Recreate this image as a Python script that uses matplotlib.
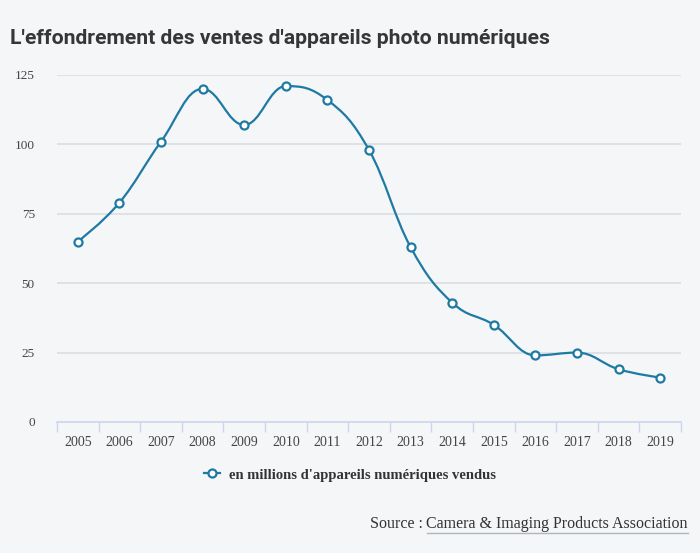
import numpy as np
import matplotlib
matplotlib.use('Agg')
import matplotlib.pyplot as plt
from matplotlib.path import Path
from matplotlib.patches import PathPatch
from matplotlib.lines import Line2D

# Données (millions d'appareils numériques vendus)
annees = ['2005', '2006', '2007', '2008', '2009', '2010', '2011', '2012',
          '2013', '2014', '2015', '2016', '2017', '2018', '2019']
ventes = [65, 79, 101, 120, 107, 121, 116, 98, 63, 43, 35, 24, 25, 19, 16]
yticks = [0, 25, 50, 75, 100, 125]

titre = "L'effondrement des ventes d'appareils photo numériques"
legende = "en millions d'appareils numériques vendus"
source_pre = "Source : "
source_nom = "Camera & Imaging Products Association"

BLEU = '#1f7aa3'
FOND = '#f4f6f8'
GRILLE = '#dadfe4'
AXE = '#ccd6eb'


def spline_path(xs, ys, smoothing=1.5):
    # courbe lissée façon "spline" (points de contrôle de Bézier)
    n = len(xs)
    denom = smoothing + 1
    verts = [(xs[0], ys[0])]
    codes = [Path.MOVETO]
    ctrl = []
    for i in range(n):
        if i == 0 or i == n - 1:
            ctrl.append(((xs[i], ys[i]), (xs[i], ys[i])))
            continue
        lx, ly = xs[i - 1], ys[i - 1]
        nx, ny = xs[i + 1], ys[i + 1]
        px, py = xs[i], ys[i]
        lcx = (smoothing * px + lx) / denom
        lcy = (smoothing * py + ly) / denom
        rcx = (smoothing * px + nx) / denom
        rcy = (smoothing * py + ny) / denom
        if rcx != lcx:
            corr = (rcy - lcy) * (rcx - px) / (rcx - lcx) + py - rcy
            lcy += corr
            rcy += corr
        if lcy > ly and lcy > py:
            lcy = max(ly, py)
            rcy = 2 * py - lcy
        elif lcy < ly and lcy < py:
            lcy = min(ly, py)
            rcy = 2 * py - lcy
        if rcy > ny and rcy > py:
            rcy = max(ny, py)
            lcy = 2 * py - rcy
        elif rcy < ny and rcy < py:
            rcy = min(ny, py)
            lcy = 2 * py - rcy
        ctrl.append(((lcx, lcy), (rcx, rcy)))
    for i in range(1, n):
        verts += [ctrl[i - 1][1], ctrl[i][0], (xs[i], ys[i])]
        codes += [Path.CURVE4] * 3
    return Path(verts, codes)


fig = plt.figure(figsize=(7, 5.53), dpi=100, facecolor=FOND)
ax = fig.add_axes([57 / 700, 131 / 553, 624 / 700, 347 / 553])
ax.set_facecolor(FOND)

x = np.arange(len(annees))
chemin = spline_path(list(x), ventes)
ax.add_patch(PathPatch(chemin, facecolor='none', edgecolor=BLEU, lw=1.6, zorder=3))
ax.plot(x, ventes, ls='none', marker='o', ms=5.8, mfc='white', mec=BLEU,
        mew=1.6, zorder=4)

ax.set_xlim(-0.5, len(annees) - 0.5)
ax.set_ylim(0, 125)
ax.set_yticks(yticks)
ax.set_yticklabels([str(v) for v in yticks], family='Liberation Serif',
                   fontsize=9.5, color='#444444')
ax.tick_params(axis='y', length=0, pad=16)

ax.set_xticks(x)
ax.set_xticklabels(annees, family='Liberation Serif', fontsize=10,
                   color='#444444')
ax.set_xticks(np.arange(len(annees) + 1) - 0.5, minor=True)
ax.tick_params(axis='x', which='major', length=0, pad=10)
ax.tick_params(axis='x', which='minor', length=7, width=1, color=AXE,
               direction='out')

for v in yticks[1:]:
    ax.axhline(v, color=GRILLE, lw=1.2, zorder=1)
for s in ['top', 'right', 'left']:
    ax.spines[s].set_visible(False)
ax.spines['bottom'].set_color(AXE)
ax.spines['bottom'].set_linewidth(1.2)

fig.text(10 / 700, 1 - 38 / 553, titre, fontsize=15.2, fontweight='bold',
         family=['Roboto', 'DejaVu Sans'],
         color='#363636', va='center', ha='left')

poignee = Line2D([], [], color=BLEU, lw=1.6, marker='o', ms=5.8,
                 mfc='white', mec=BLEU, mew=1.6)
fig.legend([poignee], [legende], loc='center', bbox_to_anchor=(0.5, 1 - 475 / 553),
           frameon=False, handlelength=1.1, handletextpad=0.6,
           prop={'family': 'Liberation Serif', 'weight': 'bold', 'size': 10.5},
           labelcolor='#333333')

t2 = fig.text(688 / 700, 1 - 524 / 553, source_nom, fontsize=11.5,
              family='Liberation Serif', color='#333333', ha='right', va='center')
fig.canvas.draw()
bb = t2.get_window_extent()
t1 = fig.text(bb.x0 / 700, 1 - 524 / 553, source_pre, fontsize=11.5,
              family='Liberation Serif', color='#333333', ha='right', va='center')
fig.add_artist(Line2D([bb.x0 / 700, bb.x1 / 700], [(bb.y0 - 1) / 553] * 2,
                      color='#b0b6bd', lw=1.0))

fig.savefig('out.png', dpi=100, facecolor=FOND)
